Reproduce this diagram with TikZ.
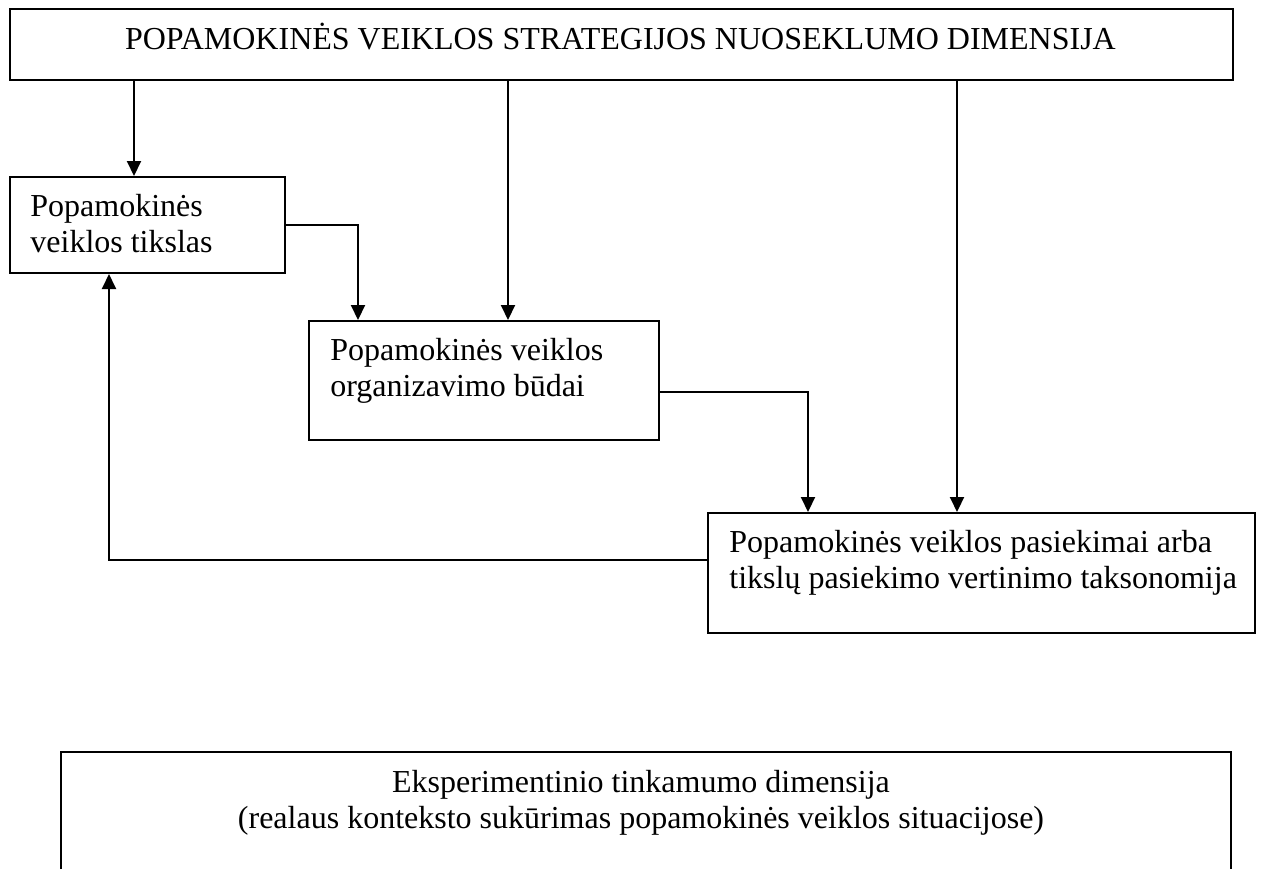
\documentclass[tikz,border=0pt]{standalone}
\usepackage{fontspec}
\setmainfont{Liberation Serif}
\usepackage{tikz}
\usetikzlibrary{calc,arrows.meta}
\tikzset{
  frame/.style={draw=black, line width=1pt, inner sep=0pt, anchor=north west},
  body/.style={font=\fontsize{16}{18}\selectfont, inner sep=0pt},
  link/.style={draw=black, line width=1pt, -{Triangle[length=7.5pt,width=7pt]}},
  plain/.style={draw=black, line width=1pt}
}

\begin{document}
\begin{tikzpicture}[x=0.5pt,y=-0.5pt]
  \useasboundingbox (0,0) rectangle (1262,869);

  % boxes (positions in pixels of the scan)
  \node[frame, minimum width=611.5pt, minimum height=35.5pt] (dimensija) at (9,8) {};
  \node[frame, minimum width=137.5pt, minimum height=48pt] (tikslas) at (9,176) {};
  \node[frame, minimum width=175pt, minimum height=59.5pt] (budai) at (308,320) {};
  \node[frame, minimum width=273.5pt, minimum height=60pt] (pasiekimai) at (707,512) {};

  % texts (base = baseline of the last line)
  \node[body, anchor=base] (dimensijaTxt) at (620.5,49)
    {POPAMOKINĖS VEIKLOS STRATEGIJOS NUOSEKLUMO DIMENSIJA};
  \node[body, align=left, anchor=base west] (tikslasTxt) at (30,252)
    {Popamokinės\\veiklos tikslas};
  \node[body, align=left, anchor=base west] (budaiTxt) at (330,396)
    {Popamokinės veiklos\\organizavimo būdai};
  \node[body, align=left, anchor=base west] (pasiekimaiTxt) at (729,588)
    {Popamokinės veiklos pasiekimai arba\\tikslų pasiekimo vertinimo taksonomija};

  % columns and rows for the elbow connectors
  \coordinate (colA) at (134,0);
  \coordinate (colAB) at (358,0);
  \coordinate (colB) at (508,0);
  \coordinate (colBC) at (808,0);
  \coordinate (colC) at (957,0);
  \coordinate (colBack) at (109,0);
  \coordinate (rowBC) at (0,392);
  \coordinate (rowBack) at (0,560);

  \draw[link] (dimensija.south -| colA) -- (tikslas.north -| colA);
  \draw[link] (dimensija.south -| colB) -- (budai.north -| colB);
  \draw[link] (dimensija.south -| colC) -- (pasiekimai.north -| colC);
  \draw[link] (tikslas.east) -| (budai.north -| colAB);
  \draw[link] (budai.east |- rowBC) -| (pasiekimai.north -| colBC);
  \draw[link] (pasiekimai.west |- rowBack) -| (tikslas.south -| colBack);

  % lower frame, cut off at the page edge
  \coordinate (eksTL) at (61,752);
  \coordinate (eksTR) at (1231,752);
  \draw[plain] (eksTL |- 0,869) -- (eksTL) -- (eksTR) -- (eksTR |- 0,869);
  \node[body, align=center, anchor=base] (eksTxt) at (641,828)
    {Eksperimentinio tinkamumo dimensija\\(realaus konteksto sukūrimas popamokinės veiklos situacijose)};
\end{tikzpicture}
\end{document}
